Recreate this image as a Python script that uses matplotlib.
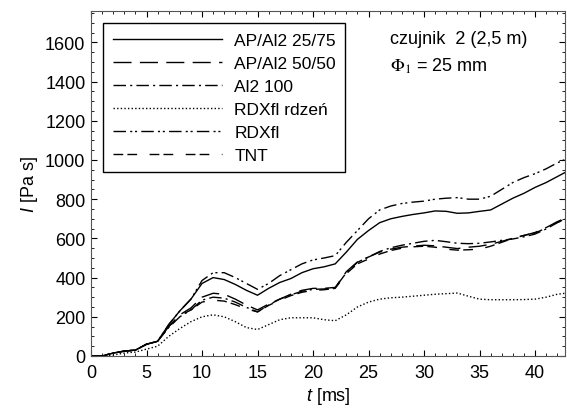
import numpy as np
import matplotlib.pyplot as plt
from matplotlib.ticker import MultipleLocator

plt.rcParams['font.family'] = ['Liberation Sans', 'DejaVu Sans']
plt.rcParams['mathtext.fontset'] = 'custom'
plt.rcParams['mathtext.rm'] = 'Liberation Sans'
plt.rcParams['mathtext.it'] = 'Liberation Sans:italic'

# time axis [ms]
t = np.arange(0, 44)

ap_25_75 = [0, 0, 15, 25, 30, 60, 75, 160, 230, 290, 370, 400, 390, 365, 335, 310, 345, 375,
            395, 425, 445, 455, 470, 530, 595, 640, 680, 700, 712, 722, 730, 740, 738, 728,
            730, 738, 745, 775, 805, 830, 860, 885, 915, 945]
ap_50_50 = [0, 0, 15, 25, 30, 60, 75, 150, 210, 245, 300, 320, 315, 290, 260, 235, 265, 290,
            315, 335, 345, 345, 350, 430, 480, 505, 530, 545, 555, 560, 565, 562, 555, 548,
            555, 560, 570, 585, 600, 615, 630, 655, 685, 710]
al2_100 = [0, 0, 15, 25, 30, 60, 75, 145, 200, 235, 285, 300, 295, 275, 248, 225, 260, 290,
           312, 330, 340, 342, 348, 425, 478, 505, 533, 552, 565, 575, 585, 590, 583, 575,
           573, 575, 582, 590, 597, 608, 622, 648, 680, 705]
rdx_core = [0, 0, 5, 15, 20, 35, 50, 100, 140, 175, 200, 210, 200, 175, 145, 135, 160, 185,
            195, 195, 195, 185, 180, 210, 250, 275, 290, 297, 300, 305, 310, 315, 318, 321,
            305, 290, 287, 287, 287, 288, 290, 300, 315, 322]
rdx = [0, 0, 15, 25, 30, 60, 75, 160, 230, 290, 385, 425, 425, 400, 370, 340, 370, 410,
       440, 470, 490, 500, 512, 580, 640, 700, 745, 765, 778, 785, 790, 800, 805, 808,
       800, 800, 815, 850, 885, 910, 930, 955, 985, 1010]
tnt = [0, 0, 15, 25, 30, 60, 75, 150, 205, 235, 275, 285, 280, 262, 240, 225, 258, 285,
       308, 325, 335, 338, 345, 420, 470, 495, 520, 538, 550, 557, 560, 555, 545, 540,
       542, 545, 560, 580, 600, 615, 628, 652, 682, 705]

labels = ['AP/Al2 25/75', 'AP/Al2 50/50', 'Al2 100', 'RDXfl rdzeń', 'RDXfl', 'TNT']
series = [ap_25_75, ap_50_50, al2_100, rdx_core, rdx, tnt]
styles = ['-', (0, (13, 6)), (0, (9, 3, 1.5, 3)), (0, (1, 1.6)),
          (0, (9, 3, 1.5, 2, 1.5, 3)), (0, (7, 3, 7, 9))]

fig = plt.figure(figsize=(5.67, 4.14), dpi=100)
ax = fig.add_axes([0.1605, 0.1377, 0.836, 0.8333])

for y, lab, ls in zip(series, labels, styles):
    ax.plot(t, y, color='black', lw=1.0, ls=ls, label=lab)

ax.set_xlim(0, 42.7)
ax.set_ylim(0, 1760)
ax.xaxis.set_major_locator(MultipleLocator(5))
ax.xaxis.set_minor_locator(MultipleLocator(1))
ax.yaxis.set_major_locator(MultipleLocator(200))
ax.yaxis.set_minor_locator(MultipleLocator(50))
ax.tick_params(which='both', direction='in', top=True, right=True, labelsize=13)
ax.tick_params(axis='x', pad=6)
ax.tick_params(axis='y', pad=4)
ax.tick_params(which='major', length=4)
ax.tick_params(which='minor', length=2.5)
for s in ax.spines.values():
    s.set_color('#555555')

ax.set_xlabel('$t$ [ms]', fontsize=13, labelpad=3)
ax.set_ylabel('$I$ [Pa s]', fontsize=13, labelpad=4)

leg = ax.legend(loc='upper left', fontsize=12.5, handlelength=6.3, handletextpad=0.7,
                labelspacing=0.45, borderaxespad=0.7, fancybox=False, framealpha=1,
                edgecolor='black', borderpad=0.55)
leg.get_frame().set_linewidth(1.0)

ax.text(0.63, 0.945, 'czujnik  2 (2,5 m)', transform=ax.transAxes, fontsize=13, va='top')
ax.text(0.63, 0.87, r'$\Phi_1$ = 25 mm', transform=ax.transAxes, fontsize=13, va='top',
        math_fontfamily='stix')

fig.savefig('out.png', dpi=100)
